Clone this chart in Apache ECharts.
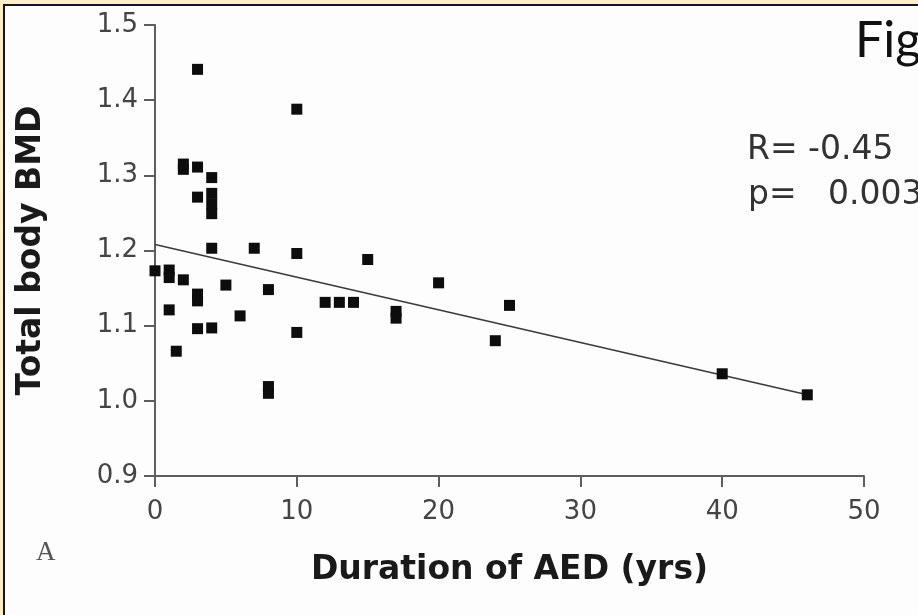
<!DOCTYPE html>
<html lang="en">
<head>
    <meta charset="UTF-8">
    <title>Total body BMD vs duration of AED</title>
    <script src="https://cdn.jsdelivr.net/npm/echarts@6/dist/echarts.min.js"></script>
    <style>
        html, body { margin: 0; padding: 0; background: #fbefca; }
        #frame {
            position: absolute; left: 3px; top: 4px; width: 920px; height: 620px;
            border-left: 2px solid #161616; border-top: 2px solid #161616;
            background: #fdfdfd;
        }
        #main { position: absolute; left: 0; top: 0; width: 918px; height: 615px; }
    </style>
</head>
<body>
<div id="frame"></div>
<div id="main"></div>
<script>
    // duration of AED (yrs) and total body BMD
    var duration = [0, 1, 1, 1, 1.5, 2, 2, 2, 3, 3, 3, 3, 3, 3,
        4, 4, 4, 4, 4, 4, 5, 6, 7, 8, 8, 8, 10, 10, 10,
        12, 13, 14, 15, 17, 17, 20, 24, 25, 40, 46];
    var bmd = [1.173, 1.174, 1.164, 1.121, 1.066, 1.315, 1.308, 1.161, 1.441, 1.311, 1.271, 1.142, 1.133, 1.096,
        1.297, 1.276, 1.262, 1.249, 1.203, 1.097, 1.154, 1.113, 1.203, 1.148, 1.019, 1.010, 1.388, 1.196, 1.091,
        1.131, 1.131, 1.131, 1.188, 1.119, 1.110, 1.157, 1.080, 1.127, 1.036, 1.008];
    // regression line end points
    var fitX = [0, 46];
    var fitY = [1.208, 1.008];
    var xTicks = [0, 10, 20, 30, 40, 50];
    var yTicks = ['0.9', '1.0', '1.1', '1.2', '1.3', '1.4', '1.5'];

    var points = duration.map(function (d, i) { return [d, bmd[i]]; });
    var fit = fitX.map(function (d, i) { return [d, fitY[i]]; });

    var chart = echarts.init(document.getElementById('main'));
    var axisGray = '#5e5e5e';
    var option = {
        backgroundColor: 'transparent',
        animation: false,
        grid: {left: 155, top: 25, right: 54, bottom: 139, outerBoundsMode: 'none'},
        xAxis: {
            type: 'value', min: 0, max: 50, interval: 10,
            name: 'Duration of AED (yrs)', nameLocation: 'middle', nameGap: 78,
            nameTextStyle: {fontFamily: 'DejaVu Sans', fontWeight: 'bold', fontSize: 33, color: '#1a1a1a'},
            axisLine: {lineStyle: {color: axisGray, width: 2}},
            axisTick: {length: 11, lineStyle: {color: axisGray, width: 2}},
            axisLabel: {
                margin: 23, fontFamily: 'DejaVu Sans', fontSize: 26, color: '#444',
                formatter: function (v) { return xTicks.indexOf(v) >= 0 ? String(v) : ''; }
            },
            splitLine: {show: false}
        },
        yAxis: {
            type: 'value', min: 0.9, max: 1.5, interval: 0.1,
            name: 'Total body BMD', nameLocation: 'middle', nameGap: 107,
            nameTextStyle: {fontFamily: 'DejaVu Sans', fontWeight: 'bold', fontSize: 33, color: '#1a1a1a'},
            axisLine: {lineStyle: {color: axisGray, width: 2}},
            axisTick: {length: 11, lineStyle: {color: axisGray, width: 2}},
            axisLabel: {
                margin: 17, fontFamily: 'DejaVu Sans', fontSize: 26, color: '#444',
                formatter: function (v) { return yTicks[Math.round((v - 0.9) * 10)]; }
            },
            splitLine: {show: false}
        },
        series: [{
            type: 'scatter',
            data: points,
            symbol: 'rect',
            symbolSize: 11,
            itemStyle: {color: '#0d0d0d', opacity: 1}
        }, {
            type: 'line',
            data: fit,
            symbol: 'none',
            lineStyle: {color: '#3a3a3a', width: 1.6},
            z: 1
        }],
        graphic: [
            {type: 'text', left: 747, top: 134,
                style: {text: 'R= -0.45', fontFamily: 'DejaVu Sans', fontSize: 33, fill: '#333'}},
            {type: 'text', left: 748, top: 179,
                style: {text: 'p=   0.003', fontFamily: 'DejaVu Sans', fontSize: 33, fill: '#333'}},
            {type: 'text', left: 855, top: 16,
                style: {text: 'Fig', fontFamily: 'Lato', fontSize: 50, fill: '#111'}},
            {type: 'text', left: 36, top: 539,
                style: {text: 'A', fontFamily: 'Liberation Serif', fontSize: 27, fill: '#555'}}
        ]
    };
    chart.setOption(option);
</script>
</body>
</html>
